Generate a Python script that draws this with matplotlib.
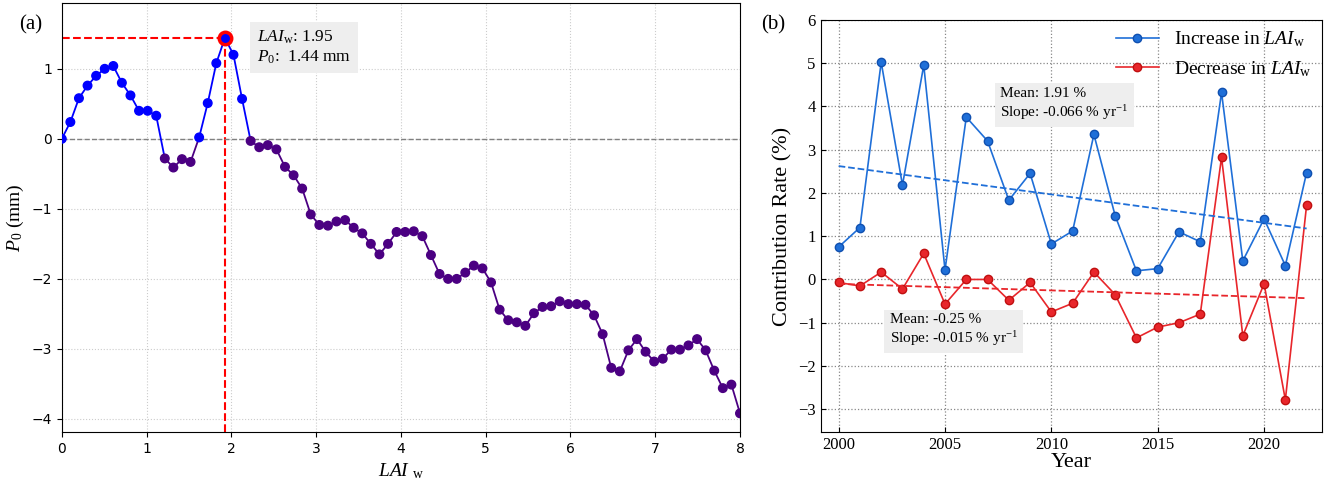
import numpy as np
import matplotlib.pyplot as plt

# panel (a): P0 vs LAI_w
p0 = [0.0, 0.24, 0.58, 0.76, 0.90, 1.0, 1.04, 0.80, 0.62, 0.40, 0.40, 0.33, -0.28, -0.41,
      -0.29, -0.33, 0.02, 0.51, 1.08, 1.44, 1.20, 0.57, -0.03, -0.12, -0.09, -0.15, -0.40,
      -0.52, -0.71, -1.08, -1.23, -1.24, -1.18, -1.16, -1.27, -1.35, -1.50, -1.65, -1.50,
      -1.33, -1.33, -1.32, -1.39, -1.66, -1.93, -2.0, -2.0, -1.91, -1.81, -1.85, -2.05,
      -2.44, -2.59, -2.62, -2.67, -2.49, -2.40, -2.39, -2.32, -2.36, -2.36, -2.37, -2.52,
      -2.79, -3.27, -3.32, -3.02, -2.86, -3.04, -3.18, -3.14, -3.01, -3.01, -2.95, -2.86,
      -3.02, -3.31, -3.56, -3.51, -3.92]
lai = np.linspace(0, 8, len(p0))
peak_lai, peak_p0 = 1.95, 1.44

# panel (b): contribution rate
years = np.arange(2000, 2023)
inc = [0.75, 1.2, 5.02, 2.18, 4.95, 0.22, 3.75, 3.2, 1.83, 2.45, 0.82, 1.12, 3.35, 1.47,
       0.2, 0.25, 1.1, 0.87, 4.32, 0.43, 1.4, 0.32, 2.47]
dec = [-0.07, -0.15, 0.17, -0.22, 0.6, -0.57, 0.0, 0.0, -0.48, -0.07, -0.75, -0.55, 0.17,
       -0.35, -1.35, -1.1, -1.0, -0.8, 2.82, -1.3, -0.1, -2.78, 1.72]

BLUE = "#0000ff"
PURPLE = "#4b0082"
serif = "Liberation Serif"
plt.rcParams["mathtext.fontset"] = "custom"
plt.rcParams["mathtext.rm"] = serif
plt.rcParams["mathtext.it"] = serif + ":italic"
plt.rcParams["mathtext.bf"] = serif + ":bold"

fig = plt.figure(figsize=(13.43, 4.94), dpi=100)
ax1 = fig.add_axes([0.046, 0.125, 0.505, 0.869])
ax2 = fig.add_axes([0.611, 0.125, 0.373, 0.835])

p = np.array(p0)
cols = [BLUE if v >= 0 else PURPLE for v in p]
for i in range(len(p) - 1):
    ax1.plot(lai[i:i + 2], p[i:i + 2], color=cols[i], lw=1.3, zorder=2)
ax1.scatter(lai, p, c=cols, s=38, zorder=3)
ipk = int(np.argmax(p))
ax1.scatter([lai[ipk]], [p[ipk]], s=80, facecolor=BLUE, edgecolor="red", lw=2.5, zorder=4)
ax1.plot([0, lai[ipk]], [p[ipk], p[ipk]], "--", color="red", lw=1.5, zorder=1)
ax1.plot([lai[ipk], lai[ipk]], [-4.19, p[ipk]], "--", color="red", lw=1.5, zorder=1)
ax1.axhline(0, color="gray", ls="--", lw=1, zorder=1)
ax1.set_xlim(0, 8)
ax1.set_ylim(-4.19, 1.94)
ax1.grid(True, ls=":", color="#cccccc", lw=0.8)
ax1.set_axisbelow(True)
ax1.tick_params(labelsize=10)
ax1.set_xlabel(r"$\it{LAI}$ $_{\rm w}$", fontsize=14, family=serif)
ax1.set_ylabel(r"$\it{P}_0$ (mm)", fontsize=14, family=serif)
ax1.text(2.3, 1.3, r"$\it{LAI}_{\rm w}$: %.2f" "\n" r"$\it{P}_0$:  %.2f mm" % (peak_lai, peak_p0),
         fontsize=12.5, family=serif, va="center",
         bbox=dict(facecolor="#eeeeee", edgecolor="none", pad=5))
fig.text(0.014, 0.94, "(a)", fontsize=15, family=serif)

# panel (b)
C1, C2 = "#1f6fd8", "#e8262b"
ax2.plot(years, inc, "-o", color=C1, ms=6, lw=1.2, mec="#1050b0",
         label=r"Increase in $\it{LAI}_{\rm w}$")
ax2.plot(years, dec, "-o", color=C2, ms=6, lw=1.2, mec="#c01010",
         label=r"Decrease in $\it{LAI}_{\rm w}$")
for vals, c in ((inc, C1), (dec, C2)):
    k, b = np.polyfit(years, vals, 1)
    ax2.plot(years, k * years + b, "--", color=c, lw=1.3)
ax2.set_xlim(1999.15, 2022.7)
ax2.set_ylim(-3.53, 6)
ax2.set_yticks(range(-3, 7))
ax2.set_xticks(range(2000, 2021, 5))
ax2.grid(True, ls=":", color="#888888", lw=0.9)
ax2.tick_params(direction="in", labelsize=12)
for lb in ax2.get_xticklabels() + ax2.get_yticklabels():
    lb.set_family(serif)
ax2.set_xlabel("Year", fontsize=16, family=serif, labelpad=0)
ax2.set_ylabel("Contribution Rate (%)", fontsize=16, family=serif)
ax2.legend(loc="upper right", frameon=False, prop={"family": serif, "size": 14},
           handlelength=2.2, borderaxespad=0.1)
ax2.text(2007.6, 4.05, "Mean: 1.91 %\nSlope: -0.066 % yr$^{-1}$", fontsize=11, family=serif,
         va="center", bbox=dict(facecolor="#eeeeee", edgecolor="none", pad=4))
ax2.text(2002.4, -1.18, "Mean: -0.25 %\nSlope: -0.015 % yr$^{-1}$", fontsize=11, family=serif,
         va="center", bbox=dict(facecolor="#eeeeee", edgecolor="none", pad=4))
fig.text(0.567, 0.94, "(b)", fontsize=15, family=serif)

fig.savefig("out.png", dpi=100)
